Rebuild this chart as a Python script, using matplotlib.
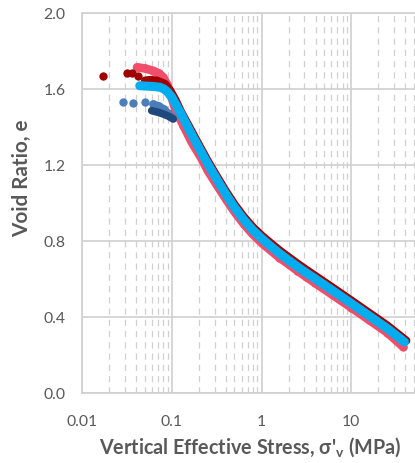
import matplotlib.pyplot as plt
from matplotlib.ticker import LogLocator, FixedLocator, NullFormatter

pink_s = [0.041, 0.05, 0.062, 0.072, 0.08, 0.088, 0.096, 0.109, 0.135, 0.167, 0.216, 0.251, 0.316, 0.398,
          0.501, 0.631, 0.794, 1.0, 1.26, 1.58, 2.0, 2.51, 3.16, 3.98, 6.31, 10.0, 15.8, 25.1, 38.0]
pink_e = [1.712, 1.706, 1.694, 1.68, 1.66, 1.625, 1.58, 1.493, 1.405, 1.318, 1.23, 1.17, 1.095, 1.022,
          0.952, 0.89, 0.836, 0.79, 0.75, 0.712, 0.677, 0.643, 0.61, 0.577, 0.513, 0.449, 0.384, 0.318, 0.242]

dred_s = [0.0173, 0.0315, 0.036, 0.042, 0.0505, 0.058, 0.068, 0.084, 0.096, 0.11, 0.126, 0.158, 0.2, 0.251,
          0.316, 0.398, 0.501, 0.631, 0.794, 1.0, 1.26, 1.58, 2.0, 2.51, 3.16, 3.98, 6.31, 10.0, 15.8, 25.1, 41.0]
dred_e = [1.664, 1.682, 1.684, 1.668, 1.642, 1.645, 1.642, 1.624, 1.59, 1.54, 1.48, 1.395, 1.305, 1.22,
          1.14, 1.062, 0.99, 0.927, 0.873, 0.828, 0.788, 0.75, 0.714, 0.68, 0.647, 0.615, 0.551, 0.486, 0.421,
          0.355, 0.275]

lblue_s = [0.0289, 0.0373, 0.0505, 0.0622, 0.072, 0.081, 0.09, 0.1]
lblue_e = [1.528, 1.523, 1.528, 1.519, 1.508, 1.493, 1.472, 1.449]

dblue_s = [0.0598, 0.07, 0.081, 0.092, 0.104]
dblue_e = [1.484, 1.476, 1.466, 1.455, 1.44]

cyan_s = [0.044, 0.063, 0.074, 0.082, 0.09, 0.1, 0.126, 0.158, 0.2, 0.251, 0.316, 0.398, 0.501, 0.631,
          0.794, 1.0, 1.26, 1.58, 2.0, 2.51, 3.16, 3.98, 6.31, 10.0, 15.8, 25.1, 39.2]
cyan_e = [1.615, 1.611, 1.607, 1.598, 1.582, 1.555, 1.47, 1.38, 1.29, 1.205, 1.125, 1.047, 0.975, 0.912,
          0.858, 0.813, 0.772, 0.734, 0.698, 0.664, 0.631, 0.6, 0.536, 0.471, 0.406, 0.34, 0.268]

y_ticks = [0.0, 0.4, 0.8, 1.2, 1.6, 2.0]
x_ticks = [0.01, 0.1, 1, 10]
x_tick_labels = ['0.01', '0.1', '1', '10']

plt.rcParams['font.family'] = ['Lato', 'DejaVu Sans']

fig = plt.figure(figsize=(4.15, 4.64), dpi=100)
W, H = 415, 464
left, right, top, bottom = 82, 441, 13.5, 394
ax = fig.add_axes([left / W, 1 - bottom / H, (right - left) / W, (bottom - top) / H])
ax.set_xscale('log')
ax.set_xlim(0.01, 100)
ax.set_ylim(0, 2.0)

grid_c = '#d0d0d0'
ax.xaxis.set_major_locator(FixedLocator(x_ticks))
ax.xaxis.set_minor_locator(LogLocator(base=10, subs=range(2, 10)))
ax.xaxis.set_minor_formatter(NullFormatter())
ax.set_xticklabels(x_tick_labels)
ax.set_yticks(y_ticks)
ax.set_yticklabels([f'{v:.1f}' for v in y_ticks])
ax.grid(which='major', axis='both', color=grid_c, lw=1.2)
ax.grid(which='minor', axis='x', color=grid_c, lw=0.9, ls=(0, (5, 4)))
ax.set_axisbelow(True)
for s in ax.spines.values():
    s.set_color(grid_c)
    s.set_linewidth(1.2)
ax.tick_params(which='both', length=0, labelsize=12.5, colors='#595959')
ax.tick_params(axis='x', pad=15)
ax.tick_params(axis='y', pad=12)

ms = 6
rnd = dict(solid_capstyle='round', solid_joinstyle='round')
ax.plot(pink_s, pink_e, color='#f04e6a', lw=6.2, marker='o', ms=ms, mec='none', **rnd)
ax.plot(dred_s[:4], dred_e[:4], ls='none', color='#a00000', marker='o', ms=ms, mec='none')
ax.plot(dred_s[4:], dred_e[4:], color='#a00000', lw=6, **rnd)
ax.plot(lblue_s, lblue_e, ls='none', color='#4a7ebb', marker='o', ms=ms, mec='none')
ax.plot(lblue_s[3:], lblue_e[3:], color='#4a7ebb', lw=5.5, **rnd)
ax.plot(dblue_s, dblue_e, color='#1f497d', lw=5.5, **rnd)
ax.plot(cyan_s, cyan_e, color='#00aeef', lw=6.5, **rnd)

lab = dict(fontsize=14, fontweight='bold', color='#595959', ha='center', va='center')
ylab = fig.text(22 / W, 1 - 178 / H, 'Void Ratio, e', rotation=90, **lab)
xlab = fig.text(250 / W, 1 - 447 / H, "Vertical Effective Stress, σ'$_\\mathregular{v}$ (MPa)", **lab)

# fit label sizes to the widths seen in the original
fig.canvas.draw()
r = fig.canvas.get_renderer()
xlab.set_fontsize(14 * 303 / xlab.get_window_extent(r).width)
ylab.set_fontsize(14 * 118 / ylab.get_window_extent(r).height)
tw = ax.get_xticklabels()[0].get_window_extent(r).width
ax.tick_params(labelsize=12.5 * 31 / tw)

fig.savefig('out.png', dpi=100)
